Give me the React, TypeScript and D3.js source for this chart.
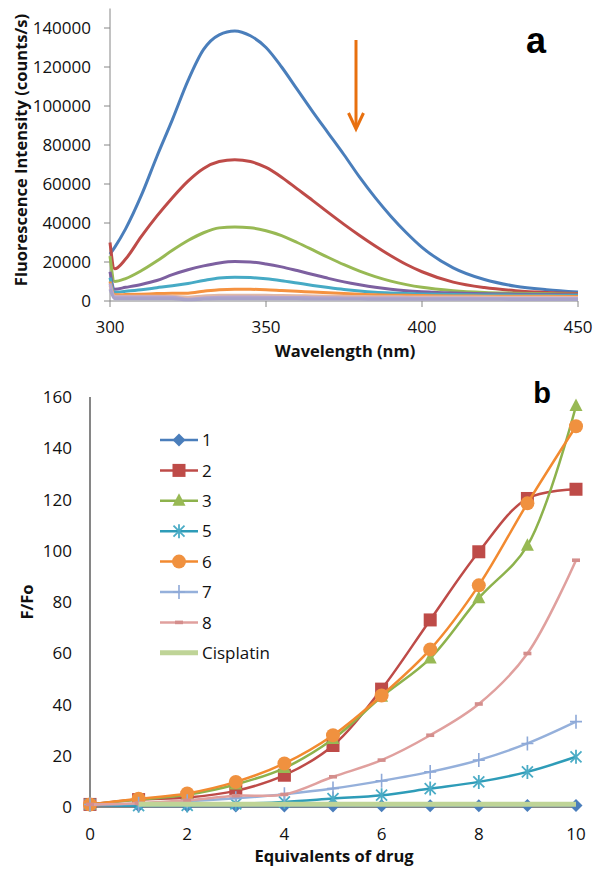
import React from 'react';
import * as d3 from 'd3';

// ---------- Panel a: emission spectra ----------
const wavelengths = [300, 301.5, 305, 310, 315, 320, 325, 330, 335, 340, 345, 350, 355, 360, 365, 370, 375, 380, 385, 390, 395, 400, 410, 420, 430, 440, 450];
const spec1 = [24000, 27500, 37000, 54000, 74000, 93000, 113000, 129000, 136500, 138500, 136000, 130000, 120000, 108500, 97000, 86000, 75000, 63500, 53000, 43500, 35000, 27500, 17000, 11000, 7600, 5800, 4600];
const spec2 = [30000, 16500, 21500, 33000, 43500, 53000, 61500, 68000, 71500, 72500, 71500, 68500, 63500, 57500, 51500, 45300, 39300, 33600, 28200, 23200, 18700, 15000, 9700, 6900, 5300, 4400, 3900];
const spec3 = [23000, 10000, 11500, 15500, 20500, 26000, 31000, 35000, 37500, 38000, 37600, 36000, 33500, 30000, 26200, 22300, 18600, 15300, 12500, 10200, 8400, 7000, 5300, 4400, 4000, 3700, 3500];
const spec4 = [15000, 6000, 7000, 8500, 10500, 13500, 16000, 18000, 19500, 20200, 20000, 19000, 17500, 15600, 13600, 11600, 9800, 8300, 7000, 6000, 5300, 4800, 4100, 3700, 3500, 3300, 3200];
const spec5 = [12000, 4500, 5000, 5800, 6800, 7800, 9000, 10500, 11800, 12200, 12000, 11400, 10400, 9200, 8000, 6900, 5900, 5100, 4500, 4100, 3800, 3600, 3300, 3100, 3000, 2900, 2800];
const spec6 = [10000, 3200, 3300, 3500, 3800, 4000, 4000, 5000, 5800, 6000, 6000, 5800, 5400, 5000, 4600, 4200, 3800, 3500, 3200, 3000, 2900, 2800, 2600, 2500, 2400, 2400, 2300];
const spec7 = [8000, 2500, 2500, 2500, 2500, 2400, 1900, 2600, 2900, 3000, 3000, 2900, 2800, 2700, 2600, 2500, 2400, 2300, 2200, 2200, 2100, 2100, 2000, 2000, 1900, 1900, 1800];
const spec8 = [9000, 2000, 2000, 2000, 2000, 1900, 900, 1600, 1900, 2000, 2000, 1900, 1800, 1800, 1700, 1700, 1600, 1600, 1500, 1500, 1500, 1400, 1400, 1300, 1300, 1300, 1300];
const spec9 = [6000, 1200, 1200, 1200, 1200, 1100, 600, 1000, 1200, 1200, 1200, 1100, 1100, 1100, 1000, 1000, 1000, 1000, 900, 900, 900, 900, 900, 900, 800, 800, 800];
const yTicksA = [0, 20000, 40000, 60000, 80000, 100000, 120000, 140000];
const xTicksA = [300, 350, 400, 450];

// ---------- Panel b: F/Fo vs equivalents ----------
const equivalents = [0, 1, 2, 3, 4, 5, 6, 7, 8, 9, 10];
const cisplatinEquivalents = [1, 2, 3, 4, 5, 6, 7, 8, 9, 10];
const ratio1 = [1, 0.5, 0.4, 0.4, 0.4, 0.4, 0.5, 0.5, 0.5, 0.6, 0.6];
const ratio2 = [1, 2.9, 3.7, 6.3, 12.4, 24, 46, 73, 99.6, 120.4, 124];
const ratio3 = [1, 2.9, 4.8, 8.8, 15.2, 26.5, 43, 58, 81.5, 102, 156.5];
const ratio5 = [1, 0.5, 0.6, 1.2, 2, 3.3, 4.6, 7.2, 9.8, 13.7, 19.6];
const ratio6 = [1, 3.2, 5.3, 9.8, 17, 28, 43.5, 61.5, 86.5, 118.5, 148.6];
const ratio7 = [1, 1.3, 2.2, 3.4, 5, 7.2, 10.2, 13.7, 18.3, 24.8, 33.3];
const ratio8 = [1, 1.5, 2.6, 4.4, 4.9, 11.8, 18.3, 28, 40.2, 59.9, 96.3];
const ratioCisplatin = [1.1, 1.1, 1.1, 1.1, 1.1, 1.1, 1.1, 1.1, 1.1, 1.1];
const seriesNames = ['1', '2', '3', '5', '6', '7', '8', 'Cisplatin'];
const yTicksB = [0, 20, 40, 60, 80, 100, 120, 140, 160];
const xTicksB = [0, 2, 4, 6, 8, 10];

const FONT = "'Open Sans', 'Liberation Sans', sans-serif";
const AXIS = '#868686';

const specSeries = [
  { v: spec1, c: '#4A7EBB' },
  { v: spec2, c: '#BE4B48' },
  { v: spec3, c: '#98B954' },
  { v: spec4, c: '#7D60A0' },
  { v: spec5, c: '#46AAC5' },
  { v: spec6, c: '#F59240' },
  { v: spec7, c: '#E0B8A8' },
  { v: spec8, c: '#B6A6CE' },
  { v: spec9, c: '#A9A3C9' },
];

type Marker = 'diamond' | 'square' | 'triangle' | 'star' | 'circle' | 'plus' | 'dash' | 'none';

const ratioSeries: { x: number[]; v: number[]; c: string; lc: string; m: Marker; w: number }[] = [
  { x: equivalents, v: ratio1, c: '#4A7EBB', lc: '#4A7EBB', m: 'diamond', w: 2.5 },
  { x: equivalents, v: ratio2, c: '#BE4B48', lc: '#BE4B48', m: 'square', w: 2.5 },
  { x: equivalents, v: ratio3, c: '#98B954', lc: '#8DB24C', m: 'triangle', w: 2.5 },
  { x: equivalents, v: ratio5, c: '#4BACC6', lc: '#2E9CB8', m: 'star', w: 2.5 },
  { x: equivalents, v: ratio6, c: '#F0913F', lc: '#F28A30', m: 'circle', w: 2.5 },
  { x: equivalents, v: ratio7, c: '#8EA9D8', lc: '#95B0DB', m: 'plus', w: 2.5 },
  { x: equivalents, v: ratio8, c: '#D48E8C', lc: '#E0A09E', m: 'dash', w: 2.5 },
  { x: cisplatinEquivalents, v: ratioCisplatin, c: '#C3D69B', lc: '#BFD497', m: 'none', w: 5 },
];

function markerEl(m: Marker, cx: number, cy: number, c: string, key: string | number) {
  switch (m) {
    case 'diamond':
      return <path key={key} d={`M${cx},${cy - 6.5}L${cx + 6.5},${cy}L${cx},${cy + 6.5}L${cx - 6.5},${cy}Z`} fill={c} />;
    case 'square':
      return <rect key={key} x={cx - 6.5} y={cy - 6.5} width={13} height={13} fill={c} />;
    case 'triangle':
      return <path key={key} d={`M${cx},${cy - 7.5}L${cx + 6.5},${cy + 5}L${cx - 6.5},${cy + 5}Z`} fill={c} />;
    case 'circle':
      return <circle key={key} cx={cx} cy={cy} r={7} fill={c} />;
    case 'star':
      return (
        <path key={key} d={`M${cx - 5.5},${cy - 5.5}L${cx + 5.5},${cy + 5.5}M${cx + 5.5},${cy - 5.5}L${cx - 5.5},${cy + 5.5}M${cx},${cy - 7}L${cx},${cy + 7}`} stroke={c} strokeWidth={1.8} fill="none" />
      );
    case 'plus':
      return <path key={key} d={`M${cx},${cy - 7}L${cx},${cy + 7}M${cx - 6},${cy}L${cx + 6},${cy}`} stroke={c} strokeWidth={1.6} fill="none" />;
    case 'dash':
      return <rect key={key} x={cx - 4} y={cy - 1.8} width={8} height={3.6} fill={c} />;
    default:
      return null;
  }
}

export default function App() {
  const xA = d3.scaleLinear().domain([300, 450]).range([110, 578]);
  const yA = d3.scaleLinear().domain([0, 150000]).range([301, 8.5]);
  const xB = d3.scaleLinear().domain([0, 10]).range([90, 576]);
  const yB = d3.scaleLinear().domain([0, 160]).range([807, 397]);

  const lineA = d3
    .line<number>()
    .x((_, i) => xA(wavelengths[i]))
    .y((d) => yA(d))
    .curve(d3.curveMonotoneX);

  const legendY = (i: number) => 440 + i * 30.4;

  return (
    <svg width={600} height={875} style={{ position: 'absolute', left: 0, top: 0, background: '#fff' }} fontFamily={FONT}>
      <rect x={0} y={0} width={600} height={875} fill="#fff" />
      {/* ===== Panel a ===== */}
      <g>
        <line x1={110} x2={110} y1={yA(150000)} y2={yA(0)} stroke={AXIS} strokeWidth={1} />
        <line x1={110} x2={578} y1={yA(0)} y2={yA(0)} stroke={AXIS} strokeWidth={1} />
        {yTicksA.map((t) => (
          <g key={t}>
            <line x1={104} x2={110} y1={yA(t)} y2={yA(t)} stroke={AXIS} />
            <text x={91} y={yA(t)} dy="0.36em" textAnchor="end" fontSize={17} fill="#111">
              {t}
            </text>
          </g>
        ))}
        {xTicksA.map((t) => (
          <g key={t}>
            <line x1={xA(t)} x2={xA(t)} y1={yA(0)} y2={yA(0) + 6} stroke={AXIS} />
            <text x={xA(t)} y={333} textAnchor="middle" fontSize={17} fill="#111">
              {t}
            </text>
          </g>
        ))}
        {specSeries.map((s, i) => (
          <path key={i} d={lineA(s.v) || ''} fill="none" stroke={s.c} strokeWidth={3} strokeLinejoin="round" />
        ))}
        <text x={21} y={150} transform="rotate(-90 21 150)" dy="0.35em" textAnchor="middle" fontSize={16.5} fontWeight="bold" fill="#111">
          Fluorescence Intensity (counts/s)
        </text>
        <text x={345} y={357} textAnchor="middle" fontSize={16.5} fontWeight="bold" fill="#111">
          Wavelength (nm)
        </text>
        {/* arrow */}
        <line x1={356} x2={356} y1={40} y2={128} stroke="#E8700F" strokeWidth={3} />
        <polyline points="348.5,113 356,129 363.5,113" fill="none" stroke="#E8700F" strokeWidth={3} strokeLinejoin="miter" />
        <text x={536} y={53} textAnchor="middle" fontSize={36} fontWeight="bold" fontFamily="'Liberation Sans', Arial, sans-serif" fill="#000">
          a
        </text>
      </g>

      {/* ===== Panel b ===== */}
      <g>
        <line x1={90} x2={90} y1={yB(160)} y2={yB(0)} stroke={AXIS} strokeWidth={2} />
        <line x1={90} x2={576} y1={yB(0)} y2={yB(0)} stroke={AXIS} strokeWidth={2} />
        {yTicksB.map((t) => (
          <text key={t} x={72} y={yB(t)} dy="0.36em" textAnchor="end" fontSize={17} fill="#111">
            {t}
          </text>
        ))}
        {xTicksB.map((t) => (
          <text key={t} x={xB(t)} y={840} textAnchor="middle" fontSize={17} fill="#111">
            {t}
          </text>
        ))}
        {ratioSeries.map((s, si) => {
          const line = d3
            .line<number>()
            .x((_, i) => xB(s.x[i]))
            .y((d) => yB(d))
            .curve(d3.curveCatmullRom.alpha(0.5));
          return (
            <g key={si}>
              <path d={line(s.v) || ''} fill="none" stroke={s.lc} strokeWidth={s.w} strokeLinejoin="round" />
              {s.v.map((d, i) => markerEl(s.m, xB(s.x[i]), yB(d), s.c, i))}
            </g>
          );
        })}
        {ratioSeries.map((s, i) => (
          <g key={'lg' + i}>
            <line x1={160} x2={198} y1={legendY(i)} y2={legendY(i)} stroke={s.lc} strokeWidth={s.w} />
            {markerEl(s.m, 179, legendY(i), s.c, 'm')}
            <text x={202} y={legendY(i)} dy="0.36em" fontSize={17} fill="#111">
              {seriesNames[i]}
            </text>
          </g>
        ))}
        <text x={33} y={602} transform="rotate(-90 33 602)" textAnchor="middle" fontSize={16.5} fontWeight="bold" fill="#111">
          F/Fo
        </text>
        <text x={334} y={862} textAnchor="middle" fontSize={16.5} fontWeight="bold" fill="#111">
          Equivalents of drug
        </text>
        <text x={542} y={403} textAnchor="middle" fontSize={29} fontWeight="bold" fontFamily="'Liberation Sans', Arial, sans-serif" fill="#000">
          b
        </text>
      </g>
    </svg>
  );
}
